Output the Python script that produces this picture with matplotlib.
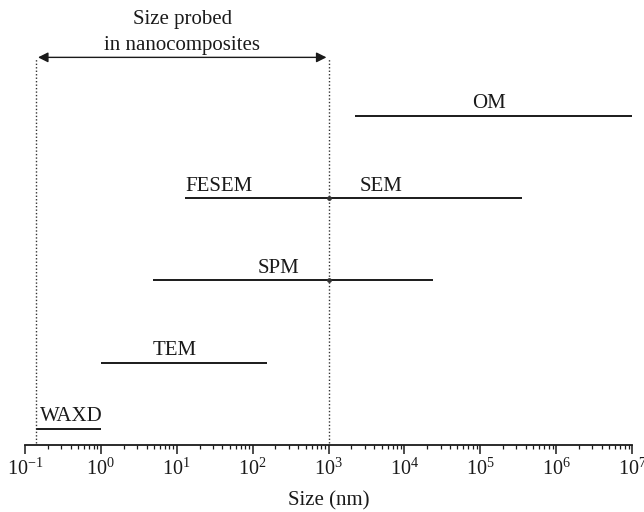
import math
import matplotlib
matplotlib.use('Agg')
import matplotlib.pyplot as plt
from matplotlib.ticker import LogLocator, NullFormatter, FixedLocator

plt.rcParams['font.family'] = ['Liberation Serif', 'DejaVu Serif']
plt.rcParams['mathtext.fontset'] = 'custom'
plt.rcParams['mathtext.rm'] = 'Liberation Serif'
plt.rcParams['mathtext.it'] = 'Liberation Serif:italic'
plt.rcParams['mathtext.bf'] = 'Liberation Serif:bold'

# ---- data ----
techniques = ['WAXD', 'TEM', 'SPM', 'SEM', 'OM']
size_min = [0.14, 1.0, 4.8, 12.8, 2230]
size_max = [1.0, 153, 23700, 350000, 1e7]
levels = [0.2, 1, 2, 3, 4]

label_texts = ['WAXD', 'TEM', 'SPM', 'FESEM', 'SEM', 'OM']
label_levels = [0.2, 1, 2, 3, 3, 4]

nano_range = [0.14, 1000]
tick_exponents = [-1, 0, 1, 2, 3, 4, 5, 6, 7]
tick_labels = [r'$10^{%d}$' % e for e in tick_exponents]

# ---- layout / style (not data) ----
label_x = [0.158, 9.5, 222, 12.8, 4900, 1.3e5]
label_ha = ['left', 'center', 'center', 'left', 'center', 'center']
FS = 15
INK = '#1a1a1a'

fig = plt.figure(figsize=(6.44, 5.12), dpi=100)
ax = fig.add_axes([25 / 644, 67 / 512, 607 / 644, 445 / 512])
ax.set_xscale('log')
ax.set_xlim(1e-1, 1e7)
ax.set_ylim(0, 445 / 82.3)

for lo, hi, lev in zip(size_min, size_max, levels):
    ax.plot([lo, hi], [lev, lev], color=INK, lw=1.4, solid_capstyle='butt')

for t, x, lev, ha in zip(label_texts, label_x, label_levels, label_ha):
    ax.text(x, lev + 0.09, t, ha=ha, va='baseline', fontsize=FS, color=INK)

# dotted limits of nanocomposite range
arrow_y = 4.71
for xv in nano_range:
    ax.plot([xv, xv], [0.02, arrow_y - 0.01], color='#333333', lw=1.0,
            linestyle=(0, (1, 1.5)))
# small dots where dotted line crosses SPM and SEM lines
ax.plot([nano_range[1], nano_range[1]], [2, 3], linestyle='none', marker='o',
        ms=2.4, color='#333333')

ax.annotate('', xy=(nano_range[0] * 1.06, arrow_y), xytext=(nano_range[1] * 0.94, arrow_y),
            arrowprops=dict(arrowstyle='<|-|>', color=INK, lw=1.0,
                            mutation_scale=15, shrinkA=0, shrinkB=0))

xc = 10 ** ((math.log10(nano_range[0]) + math.log10(nano_range[1])) / 2)
ax.text(xc, 5.115, 'Size probed', ha='center', va='baseline', fontsize=FS, color=INK)
ax.text(xc, 4.80, 'in nanocomposites', ha='center', va='baseline', fontsize=FS, color=INK)

# axes styling
for s in ['left', 'right', 'top']:
    ax.spines[s].set_visible(False)
ax.spines['bottom'].set_linewidth(1.3)
ax.spines['bottom'].set_color(INK)
ax.set_yticks([])
ax.xaxis.set_major_locator(FixedLocator([10.0 ** e for e in tick_exponents]))
ax.set_xticklabels(tick_labels)
ax.xaxis.set_minor_locator(LogLocator(base=10, subs=range(2, 10), numticks=20))
ax.xaxis.set_minor_formatter(NullFormatter())
ax.tick_params(axis='x', which='major', direction='out', length=6.7, width=1.1,
               color=INK, labelsize=14.5, pad=3, labelcolor=INK)
ax.tick_params(axis='x', which='minor', direction='out', length=3, width=0.9,
               color=INK)
ax.set_xlabel('Size (nm)', fontsize=FS, labelpad=8, color=INK)

fig.savefig('out.png', dpi=100)
